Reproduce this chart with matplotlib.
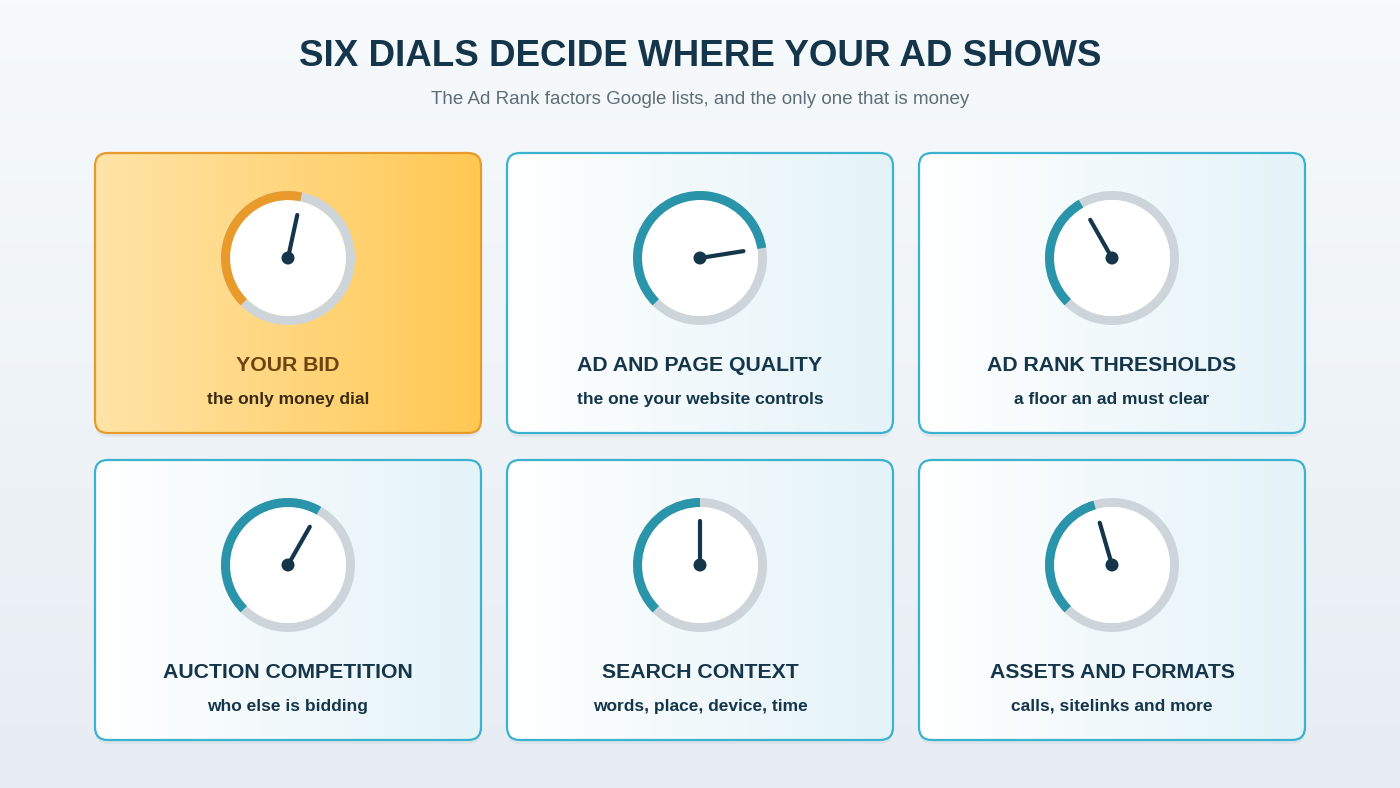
import numpy as np
import matplotlib
matplotlib.use("Agg")
import matplotlib.pyplot as plt
from matplotlib.patches import FancyBboxPatch, Wedge, Circle
from matplotlib.colors import LinearSegmentedColormap

titles = ["YOUR BID", "AD AND PAGE QUALITY", "AD RANK THRESHOLDS",
          "AUCTION COMPETITION", "SEARCH CONTEXT", "ASSETS AND FORMATS"]
subtitles = ["the only money dial", "the one your website controls", "a floor an ad must clear",
             "who else is bidding", "words, place, device, time", "calls, sitelinks and more"]
values = [0.545, 0.80, 0.39, 0.61, 0.50, 0.44]  # fraction of 270-degree sweep

W, H = 1400, 788
fig = plt.figure(figsize=(14, 7.88), dpi=100)
ax = fig.add_axes([0, 0, 1, 1])
ax.set_xlim(0, W); ax.set_ylim(0, H); ax.axis("off")

bg = LinearSegmentedColormap.from_list("bg", ["#E7EDF3", "#F6FAFC"])
ax.imshow(np.linspace(0, 1, 256)[:, None], extent=[0, W, 0, H], origin="lower",
          cmap=bg, aspect="auto", zorder=0)

ax.text(W/2, H-56, "SIX DIALS DECIDE WHERE YOUR AD SHOWS", ha="center", va="center",
        fontsize=26.5, fontweight="bold", color="#15364A", family="Liberation Sans")
ax.text(W/2, H-99, "The Ad Rank factors Google lists, and the only one that is money",
        ha="center", va="center", fontsize=13.5, color="#5E6E78", family="Liberation Sans")

xs = [95, 507, 919]
ys = [153, 460]
cw, ch = 386, 280
for i in range(6):
    x0 = xs[i % 3]; ytop = ys[i // 3]
    y0 = H - ytop - ch
    hl = i == 0
    if hl:
        cmap = LinearSegmentedColormap.from_list("c", ["#FFE4A8", "#FFC853"])
        edge = "#E89B2A"; arcc = "#E89B2A"; tc = "#6B4410"; sc = "#3A2A10"
    else:
        cmap = LinearSegmentedColormap.from_list("c", ["#FFFFFF", "#E4F3F8"])
        edge = "#3BB2CF"; arcc = "#2A95AA"; tc = "#15364A"; sc = "#15364A"
    sh = FancyBboxPatch((x0, y0-4), cw, ch, boxstyle="round,pad=0,rounding_size=13",
                        fc="#D5DEE5", ec="none", alpha=0.6, zorder=1)
    ax.add_patch(sh)
    card = FancyBboxPatch((x0, y0), cw, ch, boxstyle="round,pad=0,rounding_size=13",
                          fc="none", ec=edge, lw=1.6, zorder=3)
    ax.add_patch(card)
    im = ax.imshow(np.linspace(0, 1, 256)[None, :], extent=[x0, x0+cw, y0, y0+ch],
                   cmap=cmap, aspect="auto", zorder=2)
    im.set_clip_path(card)
    cx = x0 + cw/2; cy = H - (ytop + 105)
    R = 67; wdt = 9
    ax.add_patch(Wedge((cx, cy), R, 0, 360, width=wdt, fc="#CDD5DA", ec="none", zorder=4))
    end = 225 - values[i]*270
    ax.add_patch(Wedge((cx, cy), R, end, 225, width=wdt, fc=arcc, ec="none", zorder=5))
    ax.add_patch(Circle((cx, cy), R-wdt, fc="white", ec="none", zorder=4))
    a = np.deg2rad(end); L = 44
    ax.plot([cx, cx+L*np.cos(a)], [cy, cy+L*np.sin(a)], color="#15364A", lw=3,
            solid_capstyle="round", zorder=6)
    ax.add_patch(Circle((cx, cy), 6.5, fc="#15364A", ec="none", zorder=7))
    ax.text(cx, H-(ytop+212), titles[i], ha="center", va="center", fontsize=15.3,
            fontweight="bold", color=tc, family="Liberation Sans", zorder=8)
    ax.text(cx, H-(ytop+246), subtitles[i], ha="center", va="center", fontsize=12.5,
            fontweight="bold", color=sc, family="Liberation Sans", zorder=8)

fig.savefig("out.png", dpi=100)
